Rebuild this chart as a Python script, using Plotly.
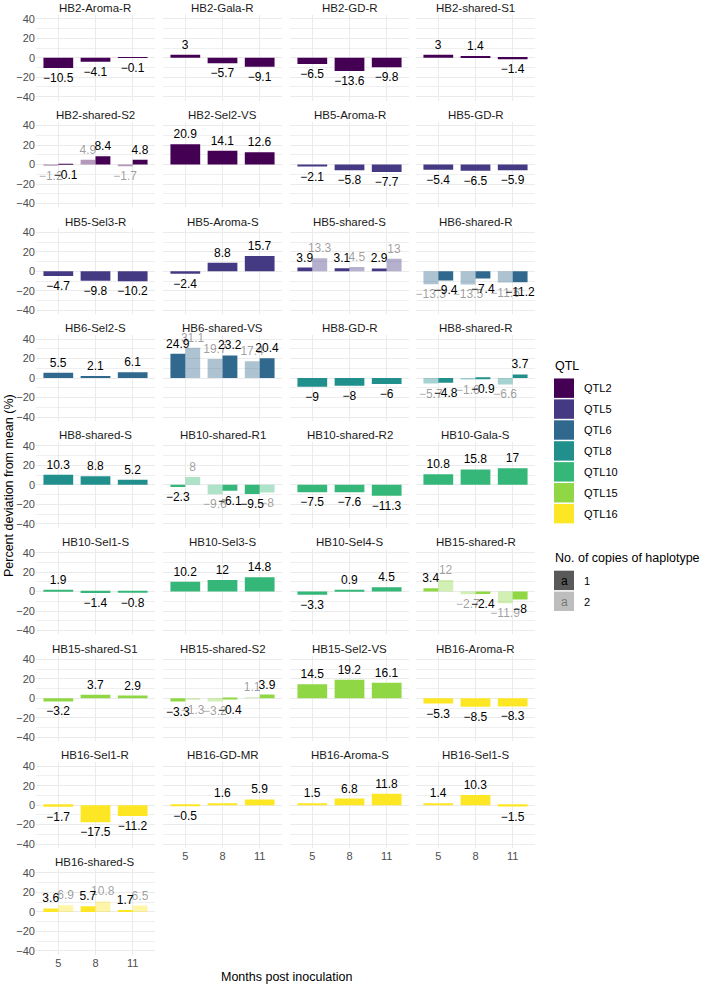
import plotly.graph_objects as go

W, H = 710, 987

months = ["5", "8", "11"]

panel_names = [
    "HB2-Aroma-R", "HB2-Gala-R", "HB2-GD-R", "HB2-shared-S1",
    "HB2-shared-S2", "HB2-Sel2-VS", "HB5-Aroma-R", "HB5-GD-R",
    "HB5-Sel3-R", "HB5-Aroma-S", "HB5-shared-S", "HB6-shared-R",
    "HB6-Sel2-S", "HB6-shared-VS", "HB8-GD-R", "HB8-shared-R",
    "HB8-shared-S", "HB10-shared-R1", "HB10-shared-R2", "HB10-Gala-S",
    "HB10-Sel1-S", "HB10-Sel3-S", "HB10-Sel4-S", "HB15-shared-R",
    "HB15-shared-S1", "HB15-shared-S2", "HB15-Sel2-VS", "HB16-Aroma-R",
    "HB16-Sel1-R", "HB16-GD-MR", "HB16-Aroma-S", "HB16-Sel1-S",
    "HB16-shared-S",
]

panel_qtl = (["QTL2"] * 6 + ["QTL5"] * 5 + ["QTL6"] * 3 + ["QTL8"] * 3 +
             ["QTL10"] * 6 + ["QTL15"] * 4 + ["QTL16"] * 6)

# values for haplotype present in 1 copy (months 5, 8, 11)
copy1_values = [
    [-10.5, -4.1, -0.1], [3, -5.7, -9.1], [-6.5, -13.6, -9.8], [3, 1.4, -1.4],
    [-0.1, 8.4, 4.8], [20.9, 14.1, 12.6], [-2.1, -5.8, -7.7], [-5.4, -6.5, -5.9],
    [-4.7, -9.8, -10.2], [-2.4, 8.8, 15.7], [3.9, 3.1, 2.9], [-9.4, -7.4, -11.2],
    [5.5, 2.1, 6.1], [24.9, 23.2, 20.4], [-9, -8, -6], [-4.8, -0.9, 3.7],
    [10.3, 8.8, 5.2], [-2.3, -6.1, -9.5], [-7.5, -7.6, -11.3], [10.8, 15.8, 17],
    [1.9, -1.4, -0.8], [10.2, 12, 14.8], [-3.3, 0.9, 4.5], [3.4, -2.4, -8],
    [-3.2, 3.7, 2.9], [-3.3, -0.4, 3.9], [14.5, 19.2, 16.1], [-5.3, -8.5, -8.3],
    [-1.7, -17.5, -11.2], [-0.5, 1.6, 5.9], [1.5, 6.8, 11.8], [1.4, 10.3, -1.5],
    [3.6, 5.7, 1.7],
]

# values for haplotype present in 2 copies (None = not present)
copy2_values = [
    None, None, None, None,
    [-1.2, 4.9, -1.7], None, None, None,
    None, None, [13.3, 4.5, 13], [-13.3, -13.5, -11.6],
    None, [31.1, 19.7, 17.4], None, [-5.7, -1.6, -6.6],
    None, [8, -9.6, -8], None, None,
    None, None, None, [12, -2.7, -11.9],
    None, [-1.3, -3.2, 1.1], None, None,
    None, None, None, None,
    [6.9, 10.8, 6.5],
]

# which copy number sits on the left of each dodged pair
left_copy = [
    None, None, None, None,
    [2, 2, 2], None, None, None,
    None, None, [1, 1, 1], [2, 2, 2],
    None, [1, 2, 2], None, [2, 2, 2],
    None, [1, 2, 1], None, None,
    None, None, None, [1, 2, 2],
    None, [1, 2, 2], None, None,
    None, None, None, None,
    [1, 1, 1],
]

qtl_levels = ["QTL2", "QTL5", "QTL6", "QTL8", "QTL10", "QTL15", "QTL16"]
qtl_colors = ["#440154", "#443A83", "#31688E", "#21908C", "#35B779", "#8FD744", "#FDE725"]
copy_levels = [1, 2]
copy_alpha = {1: 1.0, 2: 0.4}

FONT = "Liberation Sans, Arial, Helvetica, sans-serif"


def rgba(hexc, a):
    hexc = hexc.lstrip("#")
    r, g, b = int(hexc[0:2], 16), int(hexc[2:4], 16), int(hexc[4:6], 16)
    return f"rgba({r},{g},{b},{a})"


def fmt(v):
    return f"{v:g}".replace("-", "\u2212")


def px2x(p):
    return p / W


def px2y(p):
    return 1 - p / H


col_left = [36, 163, 290, 416]
PW = 119
PH = 86
ROW0 = 13
ROWSTEP = 107.2
n = len(panel_names)
ncol = 4
last_in_col = {}
for i in range(n):
    last_in_col[i % ncol] = i

fig = go.Figure()
layout = dict()
annotations = []
shapes = []

for i, name in enumerate(panel_names):
    r, c = divmod(i, ncol)
    k = i + 1
    xa = "x" if k == 1 else f"x{k}"
    ya = "y" if k == 1 else f"y{k}"
    color = qtl_colors[qtl_levels.index(panel_qtl[i])]
    c1 = copy1_values[i]
    c2 = copy2_values[i]

    if c2 is None:
        groups = [[(1, v) for v in c1]]
    else:
        lc = left_copy[i]
        left = []
        right = []
        for j in range(len(months)):
            a = lc[j]
            b = 2 if a == 1 else 1
            left.append((a, c1[j] if a == 1 else c2[j]))
            right.append((b, c1[j] if b == 1 else c2[j]))
        groups = [left, right]

    for g in groups:
        vals = [v for _, v in g]
        fig.add_trace(go.Bar(
            x=months, y=vals, xaxis=xa, yaxis=ya,
            marker=dict(color=[rgba(color, copy_alpha[cp]) for cp, _ in g],
                        line=dict(width=0)),
            text=[fmt(v) for v in vals],
            textposition="outside",
            textangle=0,
            constraintext="none",
            cliponaxis=False,
            textfont=dict(family=FONT, size=12,
                          color=[rgba("#000000", copy_alpha[cp]) for cp, _ in g]),
            hoverinfo="skip",
            showlegend=False,
        ))

    left_px = col_left[c]
    top_px = ROW0 + r * ROWSTEP
    xdom = [px2x(left_px), px2x(left_px + PW)]
    ydom = [px2y(top_px + PH), px2y(top_px)]
    layout["xaxis" if k == 1 else f"xaxis{k}"] = dict(
        domain=xdom, anchor=ya, type="category",
        categoryorder="array", categoryarray=months,
        range=[-0.6, 2.6], showgrid=True, gridcolor="#EBEBEB", gridwidth=1,
        zeroline=False, showline=False, ticks="",
        showticklabels=(last_in_col[c] == i),
        tickfont=dict(family=FONT, size=11, color="#4D4D4D"),
        fixedrange=True,
    )
    layout["yaxis" if k == 1 else f"yaxis{k}"] = dict(
        domain=ydom, anchor=xa, range=[-44, 44],
        tickvals=[-40, -20, 0, 20, 40], showgrid=True, gridcolor="#EBEBEB", gridwidth=1,
        minor=dict(tickvals=[-30, -10, 10, 30], showgrid=True, gridcolor="#EFEFEF", gridwidth=0.6),
        zeroline=False, showline=False, ticks="",
        showticklabels=(c == 0),
        tickfont=dict(family=FONT, size=11, color="#4D4D4D"),
        fixedrange=True,
    )
    annotations.append(dict(
        text=name, x=px2x(left_px + PW / 2), y=px2y(top_px - 7),
        xref="paper", yref="paper", showarrow=False,
        xanchor="center", yanchor="middle",
        font=dict(family=FONT, size=11.5, color="#1A1A1A"),
    ))

# axis titles
annotations.append(dict(
    text="Months post inoculation", x=px2x(286), y=px2y(979),
    xref="paper", yref="paper", showarrow=False, xanchor="center", yanchor="middle",
    font=dict(family=FONT, size=12.5, color="#000000"),
))
annotations.append(dict(
    text="Percent deviation from mean (%)", x=px2x(9), y=px2y(486),
    xref="paper", yref="paper", showarrow=False, xanchor="center", yanchor="middle",
    textangle=-90, font=dict(family=FONT, size=12.5, color="#000000"),
))

# legend: QTL
LX = 554
annotations.append(dict(
    text="QTL", x=px2x(LX - 1), y=px2y(365), xref="paper", yref="paper",
    showarrow=False, xanchor="left", yanchor="middle",
    font=dict(family=FONT, size=12.5, color="#000000"),
))
for j, (lvl, col) in enumerate(zip(qtl_levels, qtl_colors)):
    top = 378 + j * 21
    shapes.append(dict(type="rect", xref="paper", yref="paper",
                       x0=px2x(LX), x1=px2x(LX + 20), y0=px2y(top + 19.5), y1=px2y(top),
                       fillcolor=col, line=dict(width=0)))
    annotations.append(dict(
        text=lvl, x=px2x(LX + 28), y=px2y(top + 10), xref="paper", yref="paper",
        showarrow=False, xanchor="left", yanchor="middle",
        font=dict(family=FONT, size=11, color="#000000"),
    ))

# legend: copies
annotations.append(dict(
    text="No. of copies of haplotype", x=px2x(LX - 1), y=px2y(558), xref="paper", yref="paper",
    showarrow=False, xanchor="left", yanchor="middle",
    font=dict(family=FONT, size=12.5, color="#000000"),
))
for j, cp in enumerate(copy_levels):
    top = 571 + j * 21
    shapes.append(dict(type="rect", xref="paper", yref="paper",
                       x0=px2x(LX), x1=px2x(LX + 20), y0=px2y(top + 19.5), y1=px2y(top),
                       fillcolor=rgba("#595959", copy_alpha[cp]), line=dict(width=0)))
    annotations.append(dict(
        text="a", x=px2x(LX + 10), y=px2y(top + 10), xref="paper", yref="paper",
        showarrow=False, xanchor="center", yanchor="middle",
        font=dict(family=FONT, size=12, color=rgba("#000000", copy_alpha[cp])),
    ))
    annotations.append(dict(
        text=str(cp), x=px2x(LX + 28), y=px2y(top + 10), xref="paper", yref="paper",
        showarrow=False, xanchor="left", yanchor="middle",
        font=dict(family=FONT, size=11, color="#000000"),
    ))

layout.update(dict(
    width=W, height=H,
    margin=dict(l=0, r=0, t=0, b=0),
    barmode="group", bargap=0.2, bargroupgap=0,
    plot_bgcolor="white", paper_bgcolor="white",
    showlegend=False,
    annotations=annotations, shapes=shapes,
    font=dict(family=FONT),
))
fig.update_layout(**layout)
fig.write_html(
    "out.html",
    config={"displayModeBar": False},
    post_script="document.body.style.margin='0';document.body.style.padding='0';",
)
